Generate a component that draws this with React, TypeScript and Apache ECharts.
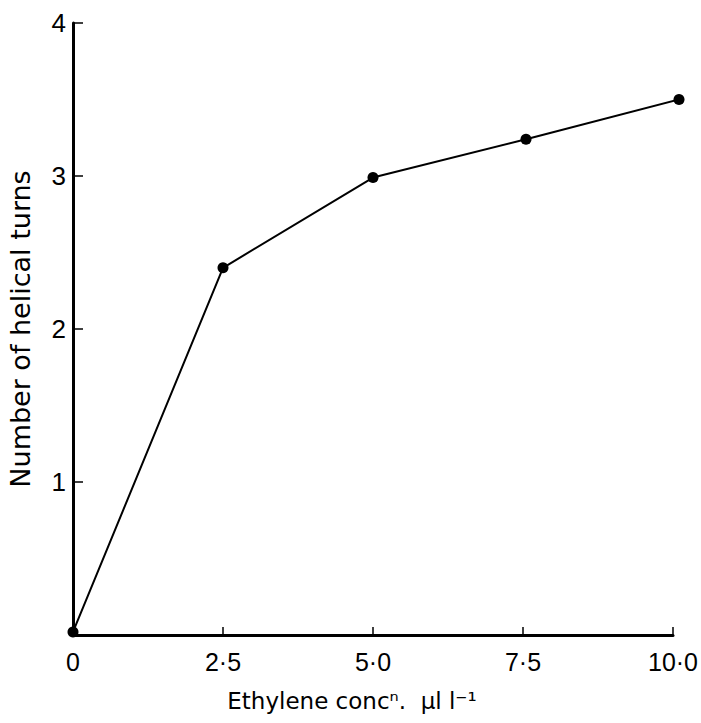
import React, { useEffect, useRef } from "react";
import * as echarts from "echarts";

const concentration = [0, 2.5, 5.0, 7.55, 10.1];
const helicalTurns = [0.02, 2.4, 2.99, 3.24, 3.5];
const xTicks = [0, 2.5, 5.0, 7.5, 10.0];
const yTicks = [1, 2, 3, 4];

const FONT = "DejaVu Sans";
const NUM_FONT = "Liberation Sans";

export default function App() {
  const ref = useRef<HTMLDivElement>(null);
  useEffect(() => {
    if (!ref.current) return;
    document.body.style.margin = "0";
    document.body.style.overflow = "hidden";
    const chart = echarts.init(ref.current, null, { renderer: "svg" });
    const fmtX = (v: number) => {
      if (!xTicks.includes(v)) return "";
      return v === 0 ? "0" : v.toFixed(1).replace(".", "·");
    };
    chart.setOption({
      animation: false,
      backgroundColor: "#ffffff",
      grid: {
        left: 73,
        top: 23,
        right: 28,
        bottom: 88,
        containLabel: false,
        outerBoundsMode: "none",
      },
      xAxis: {
        type: "value",
        min: 0,
        max: 10,
        interval: 2.5,
        name: "Ethylene concⁿ.  µl l⁻¹",
        nameLocation: "middle",
        nameGap: 54,
        nameTextStyle: { fontFamily: FONT, fontSize: 23, color: "#000", padding: [0, 42, 0, 0] },
        axisLine: { onZero: false, lineStyle: { color: "#000", width: 3 } },
        axisTick: { inside: true, length: 8, lineStyle: { color: "#000", width: 1.5 } },
        axisLabel: { formatter: fmtX, fontFamily: NUM_FONT, fontSize: 25, color: "#000", margin: 14 },
        splitLine: { show: false },
      },
      yAxis: {
        type: "value",
        min: 0,
        max: 4,
        interval: 1,
        name: "Number of helical turns",
        nameLocation: "middle",
        nameGap: 39,
        nameRotate: 90,
        nameTextStyle: { fontFamily: FONT, fontSize: 27, color: "#000" },
        axisLine: { onZero: false, lineStyle: { color: "#000", width: 3 } },
        axisTick: { inside: true, length: 10, lineStyle: { color: "#000", width: 1.5 } },
        axisLabel: {
          formatter: (v: number) => (yTicks.includes(v) ? String(v) : ""),
          fontFamily: NUM_FONT,
          fontSize: 26,
          color: "#000",
          margin: 7,
        },
        splitLine: { show: false },
      },
      series: [
        {
          type: "line",
          data: concentration.map((x, i) => [x, helicalTurns[i]]),
          symbol: "circle",
          symbolSize: 11,
          clip: false,
          lineStyle: { color: "#000", width: 2 },
          itemStyle: { color: "#000" },
        },
      ],
    });
    return () => chart.dispose();
  }, []);
  return (
    <div
      ref={ref}
      style={{ position: "absolute", left: 0, top: 0, width: 701, height: 723 }}
    />
  );
}
